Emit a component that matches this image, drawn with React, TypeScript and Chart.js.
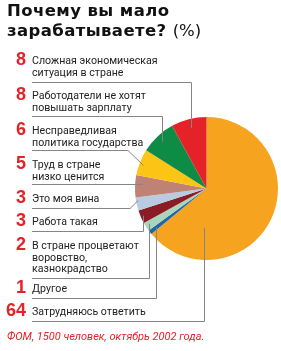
import React, { useEffect, useRef } from "react";
import { Chart, registerables } from "chart.js";

Chart.register(...registerables);

// Data in legend order (top to bottom)
const values = [8, 8, 6, 5, 3, 3, 2, 1, 64];
const numberLabels = ["8", "8", "6", "5", "3", "3", "2", "1", "64"];
const categories = [
  ["Сложная экономическая", "ситуация в стране"],
  ["Работодатели не хотят", "повышать зарплату"],
  ["Несправедливая", "политика государства"],
  ["Труд в стране", "низко ценится"],
  ["Это моя вина"],
  ["Работа такая"],
  ["В стране процветают", "воровство,", "казнокрадство"],
  ["Другое"],
  ["Затрудняюсь ответить"],
];
const sliceColors = [
  "#E52228",
  "#0E8B45",
  "#FCC415",
  "#C08274",
  "#B9CBE0",
  "#8B1B25",
  "#A9D6BB",
  "#2167A6",
  "#F6A31F",
];
const titleLine1 = "Почему вы мало";
const titleLine2 = "зарабатываете?";
const titleUnit = "(%)";
const sourceNote = "ФОМ, 1500 человек, октябрь 2002 года.";

// Layout (styles)
const firstBaselines = [65, 100, 135, 169, 203, 226, 250, 293, 316];
const separatorY = [82, 116, 150, 184, 208, 231, 278, 298, 321];
// leader: kind, fraction along slice, radius fraction, corner x for diag
const leaders = [
  { kind: "v", f: 0.5, r: 0.87, cx: 0 },
  { kind: "v", f: 0.5, r: 0.9, cx: 0 },
  { kind: "d", f: 0.43, r: 0.94, cx: 128 },
  { kind: "h", f: 0.18, r: 0.89, cx: 0 },
  { kind: "d", f: 0.74, r: 0.97, cx: 130 },
  { kind: "v", f: 0.54, r: 0.97, cx: 0 },
  { kind: "v", f: 0.6, r: 0.94, cx: 0 },
  { kind: "v", f: 0.5, r: 0.89, cx: 0 },
  { kind: "v", f: 0.8, r: 0.55, cx: 0 },
];
const LINE_X0 = 32;
const LINE_H = 11.5;

export default function App() {
  const canvasRef = useRef<HTMLCanvasElement | null>(null);

  useEffect(() => {
    document.body.style.margin = "0";
    const n = values.length;
    // pie drawn clockwise from top: reverse legend order
    const pieValues = [...values].reverse();
    const pieColors = [...sliceColors].reverse();

    const leaderPlugin = {
      id: "leaders",
      afterDatasetsDraw(chart: any) {
        const meta = chart.getDatasetMeta(0);
        const ctx = chart.ctx;
        ctx.save();
        ctx.strokeStyle = "#858585";
        ctx.lineWidth = 1;
        for (let i = 0; i < n; i++) {
          const arc = meta.data[n - 1 - i];
          const p = arc.getProps(["x", "y", "startAngle", "endAngle", "outerRadius"], true);
          const L = leaders[i];
          const a = p.startAngle + (p.endAngle - p.startAngle) * L.f;
          const ex = p.x + Math.cos(a) * p.outerRadius * L.r;
          const ey = p.y + Math.sin(a) * p.outerRadius * L.r;
          const sy = separatorY[i] + 0.5;
          ctx.beginPath();
          ctx.moveTo(LINE_X0, sy);
          if (L.kind === "v") {
            const vx = Math.round(ex) + 0.5;
            ctx.lineTo(vx, sy);
            ctx.lineTo(vx, ey);
          } else if (L.kind === "d") {
            ctx.lineTo(L.cx, sy);
            ctx.lineTo(ex, ey);
          } else {
            ctx.lineTo(ex, sy);
          }
          ctx.stroke();
        }
        ctx.restore();
      },
    };

    const chart = new Chart(canvasRef.current as HTMLCanvasElement, {
      type: "pie",
      data: {
        labels: [...categories].reverse().map((c) => c.join(" ")),
        datasets: [
          {
            data: pieValues,
            backgroundColor: pieColors,
            borderWidth: 0,
          },
        ],
      },
      options: {
        responsive: false,
        maintainAspectRatio: false,
        devicePixelRatio: 1,
        animation: false,
        layout: { padding: { left: 135, right: 3, top: 117, bottom: 91 } },
        plugins: {
          legend: { display: false },
          tooltip: { enabled: false },
        },
      },
      plugins: [leaderPlugin],
    });
    return () => chart.destroy();
  }, []);

  const labelFont = "Roboto, 'DejaVu Sans Condensed', sans-serif";

  return (
    <div
      style={{
        position: "fixed",
        left: 0,
        top: 0,
        width: 281,
        height: 351,
        background: "#fff",
        overflow: "hidden",
      }}
    >
      <canvas
        ref={canvasRef}
        width={281}
        height={351}
        style={{ position: "absolute", left: 0, top: 0, width: 281, height: 351 }}
      />
      <div
        style={{
          position: "absolute",
          left: 7,
          top: 1.2,
          fontFamily: "'DejaVu Sans', sans-serif",
          fontWeight: "bold",
          fontSize: 16.5,
          letterSpacing: "0.4px",
          lineHeight: "20px",
          color: "#111",
          whiteSpace: "nowrap",
        }}
      >
        <div>{titleLine1}</div>
        <div>
          {titleLine2} <span style={{ fontWeight: "normal", letterSpacing: 0 }}>{titleUnit}</span>
        </div>
      </div>
      {categories.map((lines, i) => (
        <React.Fragment key={i}>
          <div
            style={{
              position: "absolute",
              left: 0,
              width: 26,
              top: firstBaselines[i] - 15.2,
              textAlign: "right",
              fontFamily: "'Liberation Sans', Arial, sans-serif",
              fontWeight: "bold",
              fontSize: 18,
              lineHeight: "18px",
              color: "#E52228",
            }}
          >
            {numberLabels[i]}
          </div>
          <div
            style={{
              position: "absolute",
              left: LINE_X0,
              top: firstBaselines[i] - 9.7,
              fontFamily: labelFont,
              fontSize: 11.5,
              lineHeight: LINE_H + "px",
              color: "#222",
              whiteSpace: "nowrap",
              transform: "scaleX(0.925)",
              transformOrigin: "0 0",
            }}
          >
            {lines.map((t, j) => (
              <div key={j}>{t}</div>
            ))}
          </div>
        </React.Fragment>
      ))}
      <div
        style={{
          position: "absolute",
          left: 7,
          top: 330.7,
          fontFamily: labelFont,
          fontStyle: "italic",
          fontSize: 11,
          lineHeight: "11px",
          color: "#E52228",
          whiteSpace: "nowrap",
        }}
      >
        {sourceNote}
      </div>
    </div>
  );
}
